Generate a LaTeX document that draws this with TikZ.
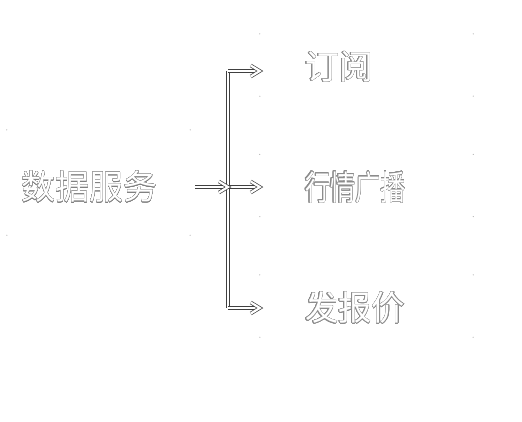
\documentclass[tikz,border=0pt]{standalone}
\usepackage{fontspec}
\usepackage{contour}
\newfontfamily\cjk{Noto Sans CJK SC}
\usetikzlibrary{arrows.meta,positioning,calc}
\contourlength{0.45pt}
\contournumber{24}

\begin{document}
\begin{tikzpicture}[x=1pt, y=-1pt,
  box/.style={inner sep=0pt},
  lbl/.style={inner sep=0pt, text=white, font=\cjk\fontsize{34}{38}\selectfont},
  pipe/.style={draw=black!75, line width=0.7pt, double=white, double distance=2.2pt},
  chev/.pic={\draw[pipe, miter limit=6] (-9,-5.5) -- (0,0) -- (-9,5.5);}]
\useasboundingbox (0,0) rectangle (522,421);
% source and targets
\node[box, minimum width=183pt, minimum height=105pt] (svc) at (98.5,182.5) {};
\node[lbl] (svc-l) at ([xshift=-9pt, yshift=-4.5pt]svc.center) {\contour{black!50}{数据服务}};
\foreach \n/\y/\s/\l in {sub1/65/1/订阅, sub2/185.5/0.74/行情广播, sub3/306/0.98/发报价} {
  \node[box, minimum width=213pt, minimum height=62pt] (\n) at (366.5,\y) {};
  \node[lbl, anchor=west] (\n-l) at ([xshift=45pt, yshift=-2pt]\n.west)
    {\scalebox{\s}[1]{\contour{black!45}{\l}}};
}
% corner dots of the boxes
\foreach \n in {svc,sub1,sub2,sub3} {
  \foreach \c in {north west,north east,south west,south east} {
    \fill[black!45] (\n.\c) circle (0.5pt);
  }
}
\coordinate (bus) at (228,187);
\coordinate (b1) at ([yshift=-6pt]bus |- sub1.west);
\coordinate (b3) at ([yshift=-2pt]bus |- sub3.west);
\draw[pipe] (b1) -- (b3);
\draw[pipe, shorten >=2pt] (b1) -- (b1 -| sub1.west);
\draw[pipe, shorten >=2pt] (b3) -- (b3 -| sub3.west);
\draw[pipe, shorten >=2pt] (bus) -- (bus -| sub2.west);
\draw[pipe, shorten >=2pt] (bus -| svc.east) ++(5,0) -- (bus);
% arrow heads
\foreach \p in {b1 -| sub1.west, b3 -| sub3.west, bus -| sub2.west, bus} {
  \pic at (\p) {chev};
}
\end{tikzpicture}
\end{document}
